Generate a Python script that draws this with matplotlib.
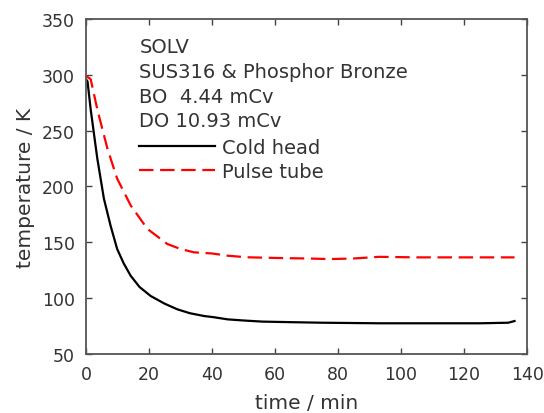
import matplotlib
matplotlib.use("Agg")
import matplotlib.pyplot as plt

plt.rcParams['font.family'] = ['DejaVu Sans']

# cooldown curves
cold_t = [0, 0.5, 1.5, 3.6, 5.7, 7.8, 9.9, 12, 14.2, 17, 20.5, 25, 29, 33,
          37.5, 40.4, 45, 50, 56, 65, 75, 93, 110, 125, 134, 136]
cold_T = [296, 294, 269, 225, 189, 165, 144, 131, 120, 110, 102, 95, 90, 86.5,
          84, 83, 81, 80, 79, 78.5, 78, 77.5, 77.5, 77.5, 78, 79.5]

pulse_t = [0, 1.5, 3.6, 6.8, 9.9, 14.2, 19.5, 25.8, 30, 34.3, 40, 45, 51,
           60, 70, 77.5, 85, 93, 105, 120, 136]
pulse_T = [299, 296, 269, 234, 207, 183, 162, 148.5, 144, 141, 140, 138,
           136.6, 136, 135.5, 135, 135.5, 137, 136.5, 136.5, 136.5]

info_lines = ["SOLV", "SUS316 & Phosphor Bronze", "BO  4.44 mCv", "DO 10.93 mCv"]

txt = '#333333'
fig = plt.figure(figsize=(5.44, 4.14), dpi=100)
ax = fig.add_axes([0.158, 0.1425, 0.811, 0.8095])

ax.plot(cold_t, cold_T, color='black', lw=1.6, label='Cold head')
ax.plot(pulse_t, pulse_T, color='#ff0000', lw=1.6, linestyle=(0, (6.5, 3)),
        label='Pulse tube')

ax.set_xlim(0, 140)
ax.set_ylim(50, 350)
ax.set_xticks(range(0, 141, 20))
ax.set_yticks(range(50, 351, 50))
ax.tick_params(direction='in', length=4, width=1, top=True, right=True,
               labelsize=12.5, colors='#444444', labelcolor=txt)
ax.tick_params(axis='y', pad=8)
ax.tick_params(axis='x', pad=8)
for s in ax.spines.values():
    s.set_color('#555555')
    s.set_linewidth(1.3)

ax.set_xlabel('time / min', fontsize=14.5, color=txt, labelpad=7)
ax.set_ylabel('temperature / K', fontsize=14.5, color=txt, labelpad=5)

# info block, one baseline per line
step = 24.7 / 335
for i, line in enumerate(info_lines):
    ax.text(0.121, 0.9006 - i * step, line, transform=ax.transAxes,
            fontsize=14, color=txt, va='baseline', ha='left')

leg = ax.legend(loc='upper left', bbox_to_anchor=(0.12, 0.644), frameon=False,
                fontsize=14, handlelength=3.9, handletextpad=0.35,
                labelspacing=0.25, borderpad=0, borderaxespad=0)
for t in leg.get_texts():
    t.set_color(txt)

fig.savefig('out.png', dpi=100)
